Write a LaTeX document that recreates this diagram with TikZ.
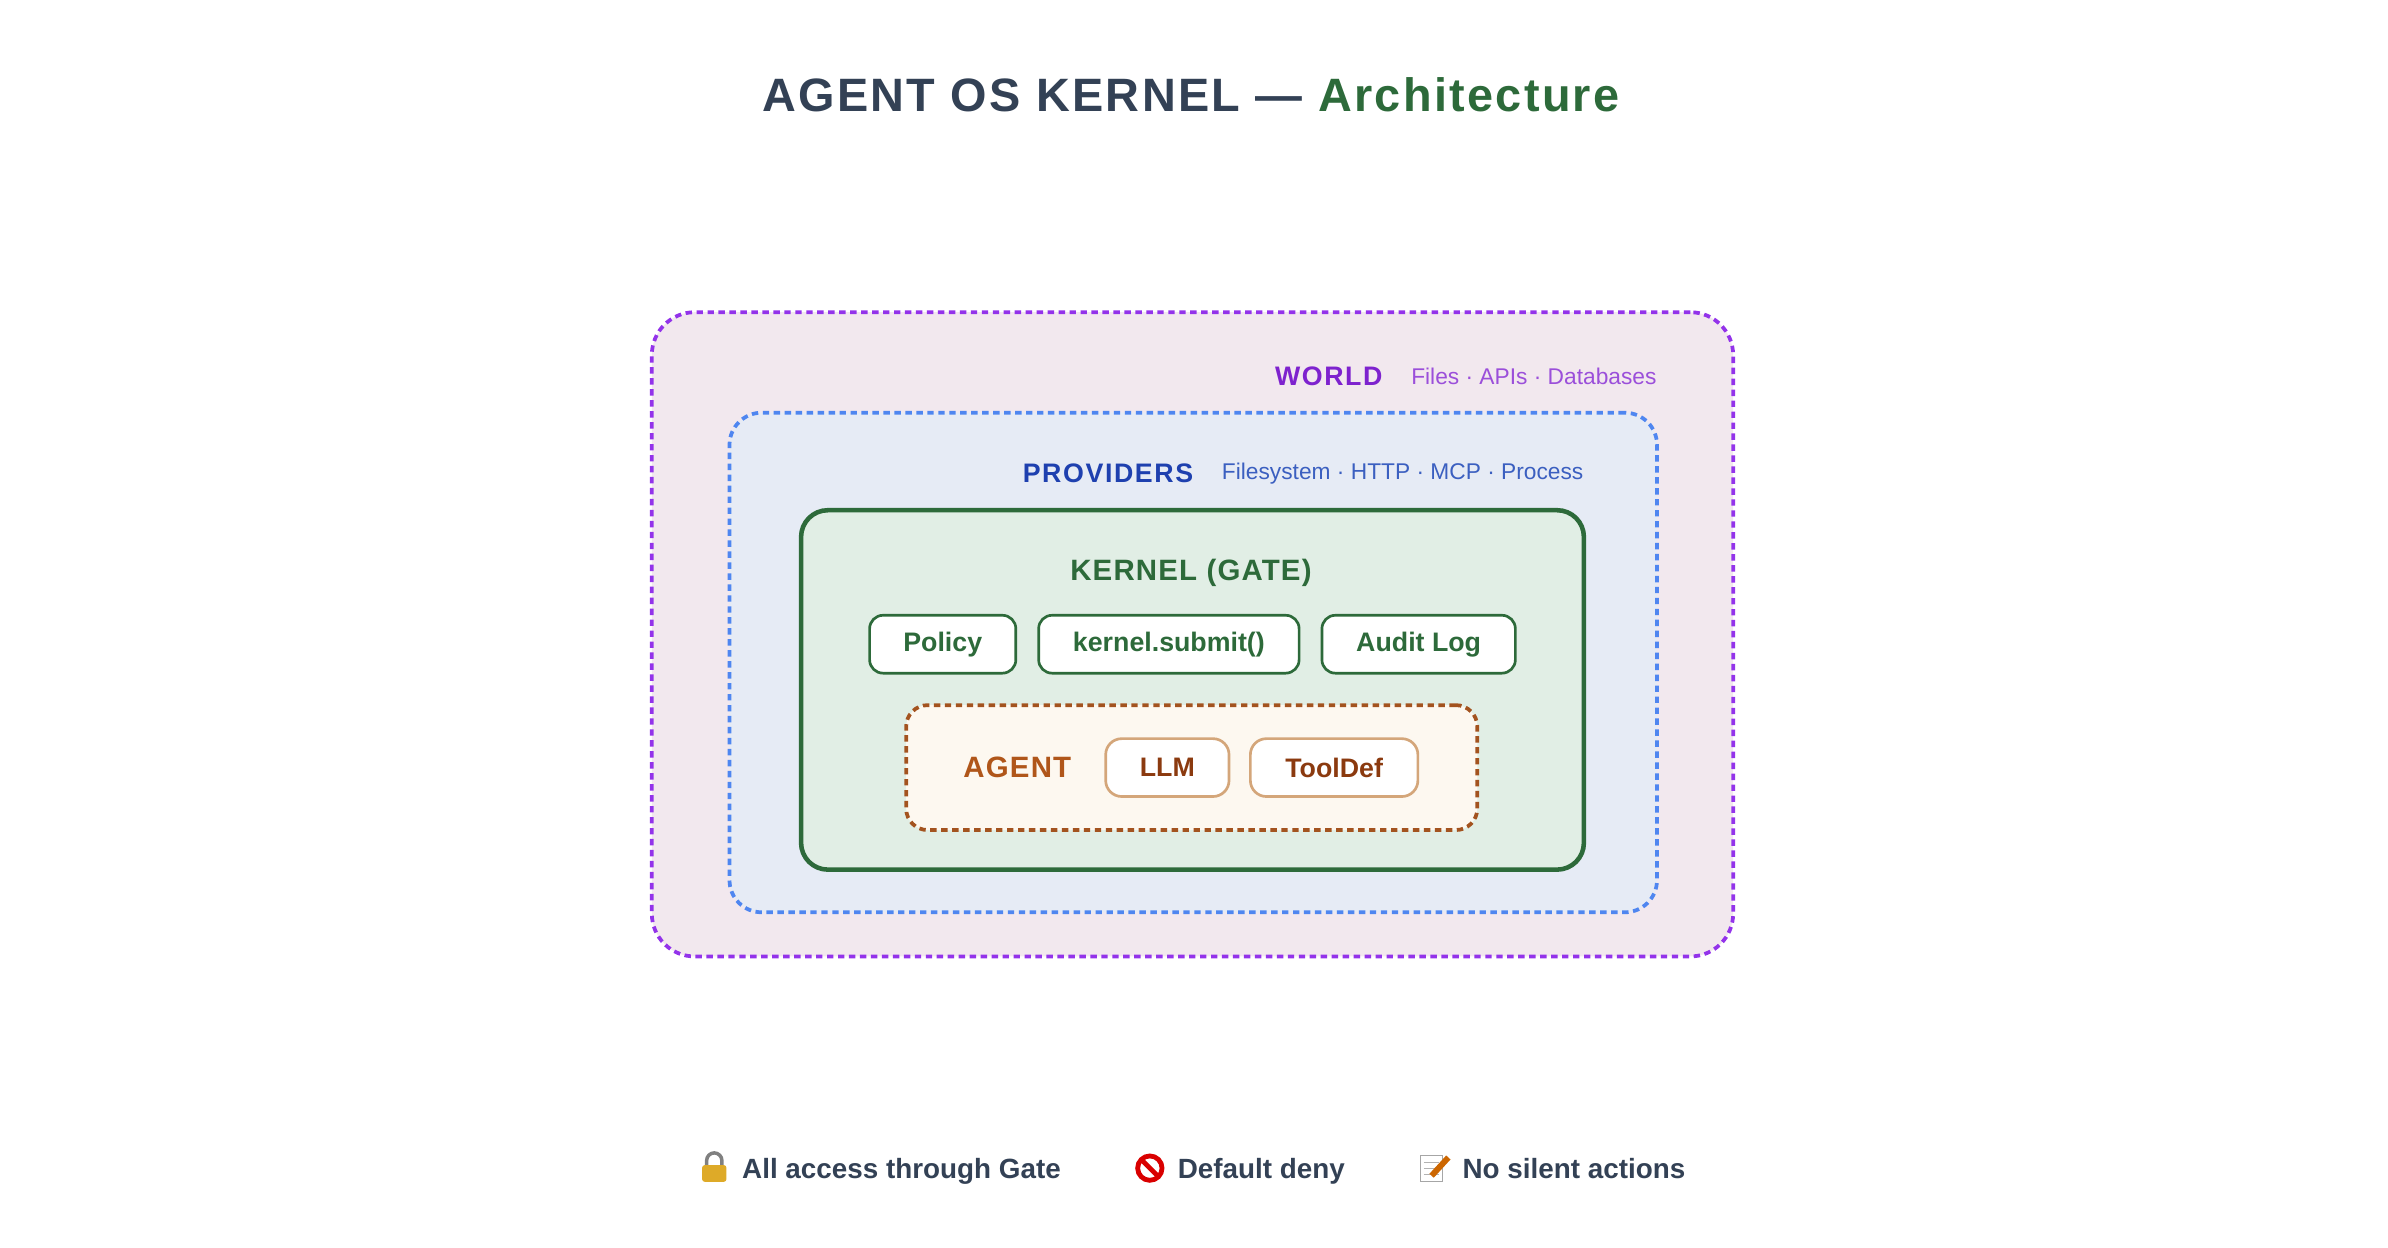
\documentclass[tikz,border=0pt]{standalone}
\usepackage{fontspec}
\setmainfont{Liberation Sans}
\usetikzlibrary{positioning}
\newcommand{\pxu}{0.02cm}
\definecolor{slate}{HTML}{334155}
\definecolor{kgreen}{HTML}{2D6A3A}
\definecolor{kfill}{HTML}{E1EEE5}
\definecolor{wline}{HTML}{9333EA}
\definecolor{wtext}{HTML}{7E22CE}
\definecolor{wsub}{HTML}{9B4FDA}
\definecolor{wfill}{HTML}{F2E8EE}
\definecolor{pline}{HTML}{4F86F0}
\definecolor{ptext}{HTML}{1E40AF}
\definecolor{psub}{HTML}{3B5FC0}
\definecolor{pfill}{HTML}{E6EBF5}
\definecolor{aline}{HTML}{A3531F}
\definecolor{atext}{HTML}{B0561A}
\definecolor{afill}{HTML}{FDF8F0}
\definecolor{abox}{HTML}{D4A67A}
\definecolor{aboxtext}{HTML}{8B3A0F}
\tikzset{
  layer/.style={draw, rectangle, rounded corners=12pt, line width=1.4pt, dash pattern=on 2.4pt off 1.7pt},
  part/.style={draw=kgreen, fill=white, rectangle, rounded corners=5pt, line width=1pt, text=kgreen, font=\fontsize{10}{12}\selectfont\bfseries, minimum height=38*\pxu},
  tool/.style={draw=abox, fill=white, rectangle, rounded corners=6pt, line width=1pt, text=aboxtext, font=\fontsize{10}{12}\selectfont\bfseries, minimum height=38*\pxu},
  tag/.style={font=\fontsize{10}{12}\selectfont\bfseries\addfontfeature{LetterSpace=6}},
  sub/.style={font=\fontsize{8.5}{10}\selectfont},
  note/.style={text=slate, font=\fontsize{10.4}{12}\selectfont\bfseries}
}
\begin{document}
\begin{tikzpicture}[x=\pxu, y=-\pxu]
		\useasboundingbox (0,0) rectangle (1568,819);
		\node (title) at (782,62) {\fontsize{17.5}{21}\selectfont\bfseries\addfontfeature{LetterSpace=5}\textcolor{slate}{AGENT OS KERNEL — }\textcolor{kgreen}{Architecture}};

		% nested layers
		\node (world) [layer, draw=wline, fill=wfill, minimum width=710*\pxu, minimum height=423*\pxu, rounded corners=16pt] at (783,416.5) {};
		\node (providers) [layer, draw=pline, fill=pfill, minimum width=609*\pxu, minimum height=328*\pxu] at (783.5,435) {};
		\node (kernel) [draw=kgreen, fill=kfill, rectangle, rounded corners=10pt, line width=1.7pt, minimum width=514*\pxu, minimum height=236*\pxu] at (783,453) {};
		\node (agent) [layer, draw=aline, fill=afill, rounded corners=8pt, minimum width=375*\pxu, minimum height=82*\pxu] at (782.5,504) {};

		\node (worldsub) [sub, text=wsub, anchor=east, inner sep=0pt] at (1088,247) {Files · APIs · Databases};
		\node (worldlbl) [tag, text=wtext, left=7pt of worldsub] {WORLD};
		\node (provsub) [sub, text=psub, anchor=east, inner sep=0pt] at (1040,311) {Filesystem · HTTP · MCP · Process};
		\node (provlbl) [tag, text=ptext, left=7pt of provsub] {PROVIDERS};
		\node (kernellbl) [tag, text=kgreen, font=\fontsize{11}{13}\selectfont\bfseries\addfontfeature{LetterSpace=4}] at (782,376) {KERNEL (GATE)};

		\node (policy) [part, minimum width=96*\pxu] at (619,423) {Policy};
		\node (submit) [part, minimum width=171*\pxu] at (767.5,423) {kernel.submit()};
		\node (audit) [part, minimum width=127*\pxu] at (931.5,423) {Audit Log};

		\node (agentlbl) [tag, text=atext, font=\fontsize{11}{13}\selectfont\bfseries\addfontfeature{LetterSpace=4}] at (668,504) {AGENT};
		\node (llm) [tool, minimum width=81*\pxu] at (766.5,504) {LLM};
		\node (tooldef) [tool, minimum width=110*\pxu] at (876,504) {ToolDef};

		% legend
		\node (gate) [note, anchor=base west, inner sep=0pt] at (487,774) {All access through Gate};
		\node (deny) [note, anchor=base west, inner sep=0pt] at (773,774) {Default deny};
		\node (silent) [note, anchor=base west, inner sep=0pt] at (960,774) {No silent actions};
		\draw [gray, line width=1.3pt] (464,766) -- (464,762) arc[start angle=180, end angle=360, x radius=5, y radius=5] -- (474,766);
		\fill [rounded corners=1pt, fill={rgb,255:red,222;green,170;blue,40}] (461,765) rectangle (477,776);
		\draw [red!85!black, line width=1.8pt] (755,767) circle[radius=8];
		\draw [red!85!black, line width=1.8pt] (749.5,761.5) -- (760.5,772.5);
		\draw [fill=white, draw=gray!70] (933,759) rectangle (947,776);
		\foreach \yy in {763,767,771} \draw [gray!60, line width=0.4pt] (935,\yy) -- (945,\yy);
		\draw [line width=2.2pt, orange!80!black] (940,772) -- (951,760);
	\end{tikzpicture}
\end{document}
